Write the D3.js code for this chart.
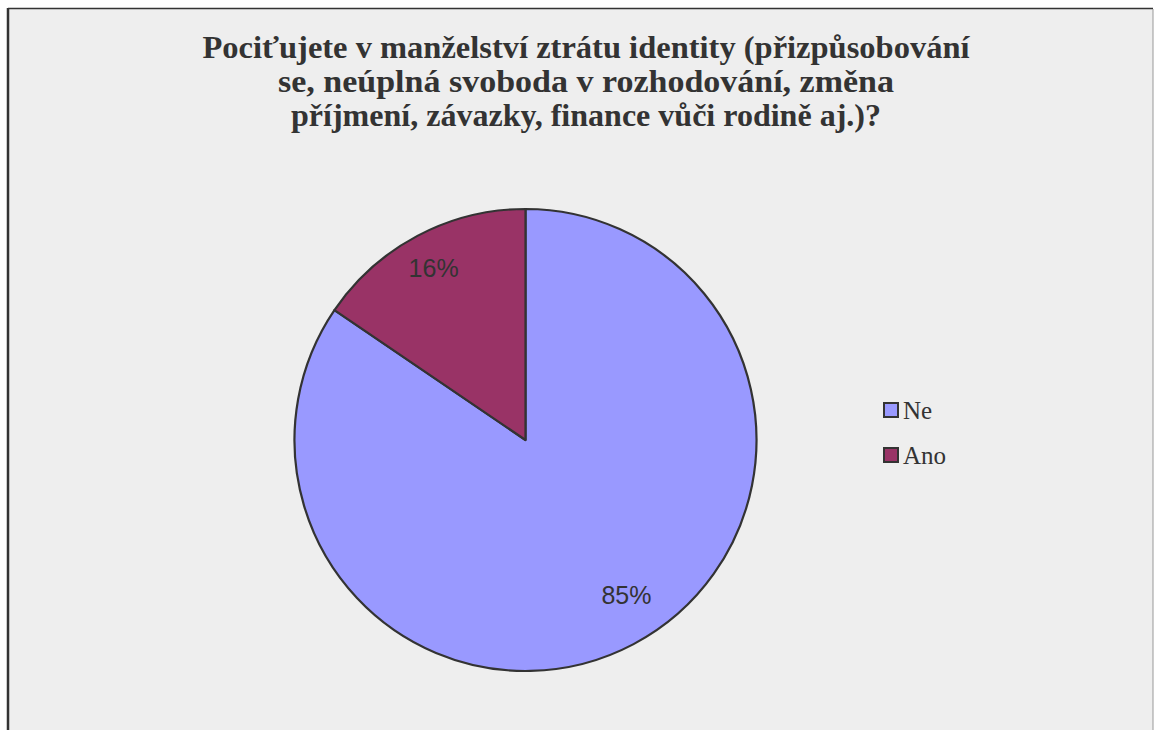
<!DOCTYPE html>
<html>
<head>
<meta charset="utf-8">
<script src="https://cdn.jsdelivr.net/npm/d3@7"></script>
<style>
html,body{margin:0;padding:0;background:#fff;}
svg{display:block;}
</style>
</head>
<body>
<svg id="chart" width="1154" height="730"></svg>
<script>
const titleLines = [
  "Pociťujete v manželství ztrátu identity (přizpůsobování",
  "se, neúplná svoboda v rozhodování, změna",
  "příjmení, závazky, finance vůči rodině aj.)?"
];
const categories = ["Ne", "Ano"];
const values = [84.5, 15.5];
const colors = ["#9999FF", "#993366"];

const svg = d3.select("#chart");

// frame
svg.append("rect").attr("x", 8).attr("y", 8.5).attr("width", 1145).attr("height", 740)
  .attr("fill", "#EEEEEE").attr("stroke", "none");
svg.append("line").attr("x1", 8).attr("x2", 1153).attr("y1", 8.5).attr("y2", 8.5)
  .attr("stroke", "#333").attr("stroke-width", 1.5);
svg.append("line").attr("x1", 8).attr("x2", 8).attr("y1", 8).attr("y2", 730)
  .attr("stroke", "#333").attr("stroke-width", 2.5);
svg.append("line").attr("x1", 1153).attr("x2", 1153).attr("y1", 9).attr("y2", 730)
  .attr("stroke", "#999").attr("stroke-width", 1);

// title
const titleWidths = [767, 616, 590];
const titleG = svg.append("g");
titleLines.forEach((t, i) => {
  titleG.append("text")
    .attr("x", 586).attr("y", 58 + i * 34)
    .attr("text-anchor", "middle")
    .attr("font-family", "'Liberation Serif', 'Times New Roman', serif")
    .attr("font-weight", "bold")
    .attr("font-size", 32)
    .attr("fill", "#333")
    .attr("textLength", titleWidths[i])
    .attr("lengthAdjust", "spacingAndGlyphs")
    .text(t);
});

// pie
const cx = 525.5, cy = 440, R = 231;
const pie = d3.pie().sort(null).value(d => d)(values);
const arc = d3.arc().innerRadius(0).outerRadius(R);
const g = svg.append("g").attr("transform", `translate(${cx},${cy})`);
g.selectAll("path").data(pie).join("path")
  .attr("d", arc)
  .attr("fill", (d, i) => colors[i])
  .attr("stroke", "#333").attr("stroke-width", 2.2).attr("stroke-linejoin", "round");

const labelArc = d3.arc().innerRadius(190).outerRadius(190);
const labelOffsets = [[12, -13], [-3, -4]];
g.selectAll("text.pct").data(pie).join("text")
  .attr("class", "pct")
  .attr("x", (d, i) => labelArc.centroid(d)[0] + labelOffsets[i][0])
  .attr("y", (d, i) => labelArc.centroid(d)[1] + labelOffsets[i][1] + 9)
  .attr("text-anchor", "middle")
  .attr("font-family", "'Liberation Sans', Arial, sans-serif")
  .attr("font-size", 25)
  .attr("fill", "#333")
  .text(d => Math.round(d.data) + "%");

// legend
const legend = svg.append("g").attr("transform", "translate(884,403)");
categories.forEach((c, i) => {
  const row = legend.append("g").attr("transform", `translate(0,${i * 45})`);
  row.append("rect").attr("x", 0).attr("y", 0).attr("width", 14).attr("height", 14)
    .attr("fill", colors[i]).attr("stroke", "#333").attr("stroke-width", 2);
  row.append("text").attr("x", 19).attr("y", 16)
    .attr("font-family", "'Liberation Serif', 'Times New Roman', serif")
    .attr("font-size", 25).attr("fill", "#333").text(c);
});
</script>
</body>
</html>
